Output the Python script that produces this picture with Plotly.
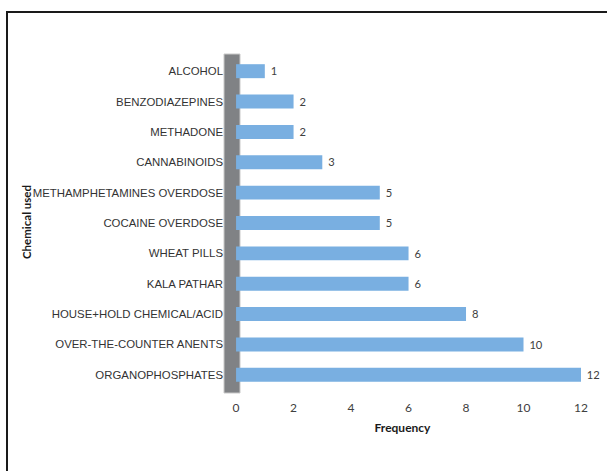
import plotly.graph_objects as go

categories = ["ALCOHOL", "BENZODIAZEPINES", "METHADONE", "CANNABINOIDS",
              "METHAMPHETAMINES OVERDOSE", "COCAINE OVERDOSE", "WHEAT PILLS",
              "KALA PATHAR", "HOUSE+HOLD CHEMICAL/ACID", "OVER-THE-COUNTER ANENTS",
              "ORGANOPHOSPHATES"]
frequency = [1, 2, 2, 3, 5, 5, 6, 6, 8, 10, 12]
x_ticks = [0, 2, 4, 6, 8, 10, 12]

W, H = 607, 471
ml, mr, mt, mb = 224, 26, 56, 81
pw = W - ml - mr
ph = H - mt - mb

def px_x(p):
    return (p - ml) / pw

def px_y(p):
    return (H - mb - p) / ph

fig = go.Figure()
fig.add_trace(go.Bar(
    y=categories, x=frequency, orientation="h",
    marker=dict(color="#79AFE1", line=dict(width=0)),
    text=["\u00a0" + str(v) for v in frequency], textposition="outside",
    textfont=dict(family="Lato", size=12, color="#404040"),
    cliponaxis=False, width=0.46,
))

# grey "wall" behind the category axis
fig.add_shape(type="rect", xref="paper", yref="paper",
              x0=px_x(224), x1=px_x(240), y0=px_y(393), y1=px_y(54),
              fillcolor="#808285", line=dict(color="#C9C9C9", width=1), layer="below")
# outer frame
fig.add_shape(type="rect", xref="paper", yref="paper",
              x0=px_x(7), x1=px_x(640), y0=px_y(520), y1=px_y(12),
              fillcolor="rgba(0,0,0,0)", line=dict(color="#1a1a1a", width=2))

fig.add_annotation(text="<b>Chemical used</b>", xref="paper", yref="paper",
                   x=px_x(26), y=px_y(222), xanchor="center", yanchor="middle",
                   textangle=-90, showarrow=False,
                   font=dict(family="Lato", size=11.5, color="#1a1a1a"))

fig.update_layout(
    width=W, height=H, margin=dict(l=ml, r=mr, t=mt, b=mb),
    paper_bgcolor="white", plot_bgcolor="white", showlegend=False,
    xaxis=dict(range=[-0.42, 12], tickvals=x_ticks, showgrid=False, zeroline=False,
               showline=False, ticks="", ticklabelstandoff=9,
               tickfont=dict(family="Lato", size=12, color="#404040"),
               title=dict(text="<b>Frequency</b>", standoff=9,
                          font=dict(family="Lato", size=12, color="#1a1a1a"))),
    yaxis=dict(autorange="reversed", showgrid=False, zeroline=False, showline=False,
               ticks="", ticklabelstandoff=0,
               tickfont=dict(family="Liberation Sans", size=11.4, color="#333333")),
    bargap=0.54,
)

fig.write_html("out.html")
